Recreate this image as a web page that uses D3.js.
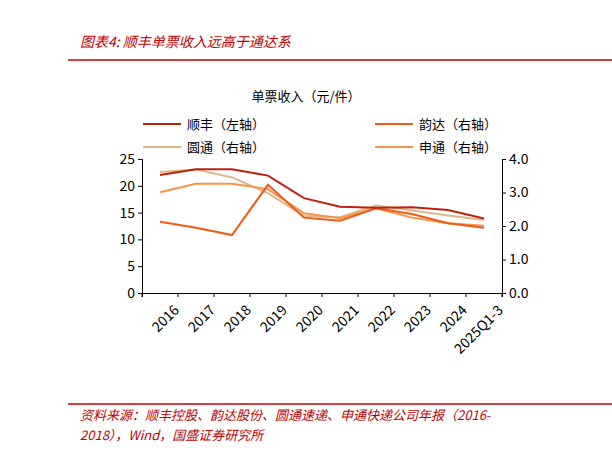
<!DOCTYPE html><html><head><meta charset="utf-8"><script src="https://cdn.jsdelivr.net/npm/d3@7"></script>
<style>body{margin:0;background:#fff}text{font-family:"Noto Sans CJK SC",sans-serif}</style></head><body><svg id="c" width="612" height="455"></svg><script>
const categories=["2016","2017","2018","2019","2020","2021","2022","2023","2024","2025Q1-3"];
const sf=[22.0,23.1,23.1,21.9,17.7,16.1,15.9,16.0,15.5,13.9];
const yd=[2.13,1.95,1.73,3.23,2.25,2.16,2.53,2.36,2.08,1.95];
const yt=[3.61,3.69,3.45,2.98,2.30,2.26,2.61,2.46,2.31,2.18];
const st=[3.01,3.26,3.26,3.10,2.38,2.23,2.53,2.25,2.08,2.01];
const leftTicks=[0,5,10,15,20,25];
const rightTicks=[0,1,2,3,4];
const svg=d3.select("#c");
svg.append("text").attr("x",80).attr("y",47).attr("fill","#c00000").attr("font-size",14).attr("font-style","italic").text("图表4:  顺丰单票收入远高于通达系");
svg.append("line").attr("x1",68).attr("x2",612).attr("y1",60).attr("y2",60).attr("stroke","#c00000").attr("stroke-width",1.5);
svg.append("line").attr("x1",68).attr("x2",612).attr("y1",404).attr("y2",404).attr("stroke","#c00000").attr("stroke-width",1.5);
svg.append("text").attr("x",80).attr("y",420).attr("fill","#c00000").attr("font-size",13).attr("font-style","italic").text("资料来源：顺丰控股、韵达股份、圆通速递、申通快递公司年报（2016-");
svg.append("text").attr("x",80).attr("y",440).attr("fill","#c00000").attr("font-size",13).attr("font-style","italic").text("2018），Wind，国盛证券研究所");
svg.append("text").attr("x",306).attr("y",101).attr("text-anchor","middle").attr("font-size",13).text("单票收入（元/件）");
const x=d3.scaleBand().domain(categories).range([142,502]);
const yl=d3.scaleLinear().domain([0,25]).range([293,159]);
const yr=d3.scaleLinear().domain([0,4]).range([293,159]);
svg.append("g").attr("transform","translate(142,0)").call(d3.axisLeft(yl).tickValues(leftTicks).tickSize(4)).call(g=>g.selectAll("text").attr("font-size",14).attr("fill","#000"));
svg.append("g").attr("transform","translate(502,0)").call(d3.axisRight(yr).tickValues(rightTicks).tickFormat(d3.format(".1f")).tickSize(4)).call(g=>g.selectAll("text").attr("font-size",14).attr("fill","#000"));
const xa=svg.append("g").attr("transform","translate(0,293)").call(d3.axisBottom(x).tickSize(4));
xa.selectAll(".tick line").attr("transform",`translate(${-x.bandwidth()/2},0)`);
xa.append("line").attr("x1",502).attr("x2",502).attr("y1",0).attr("y2",4).attr("stroke","#000");
xa.selectAll("text").attr("font-size",14).attr("fill","#000").attr("text-anchor","end").attr("transform","translate(8,6) rotate(-45)");
const series=[{d:sf,y:yl,c:"#c0200e",n:"顺丰（左轴）"},{d:yd,y:yr,c:"#f05a14",n:"韵达（右轴）"},{d:yt,y:yr,c:"#d9b88c",n:"圆通（右轴）"},{d:st,y:yr,c:"#f7944a",n:"申通（右轴）"}];
const order=[2,3,1,0];
order.forEach(i=>{const s=series[i];svg.append("path").datum(s.d).attr("fill","none").attr("stroke",s.c).attr("stroke-width",2)
.attr("d",d3.line().x((d,j)=>x(categories[j])+x.bandwidth()/2).y(d=>s.y(d)));});
const lp=[[143,124],[375,124],[143,147],[375,147]];
series.forEach((s,i)=>{const [lx,ly]=lp[i];svg.append("line").attr("x1",lx).attr("x2",lx+38).attr("y1",ly).attr("y2",ly).attr("stroke",s.c).attr("stroke-width",2);
svg.append("text").attr("x",lx+44).attr("y",ly+5).attr("font-size",13).text(s.n);});
</script></body></html>
